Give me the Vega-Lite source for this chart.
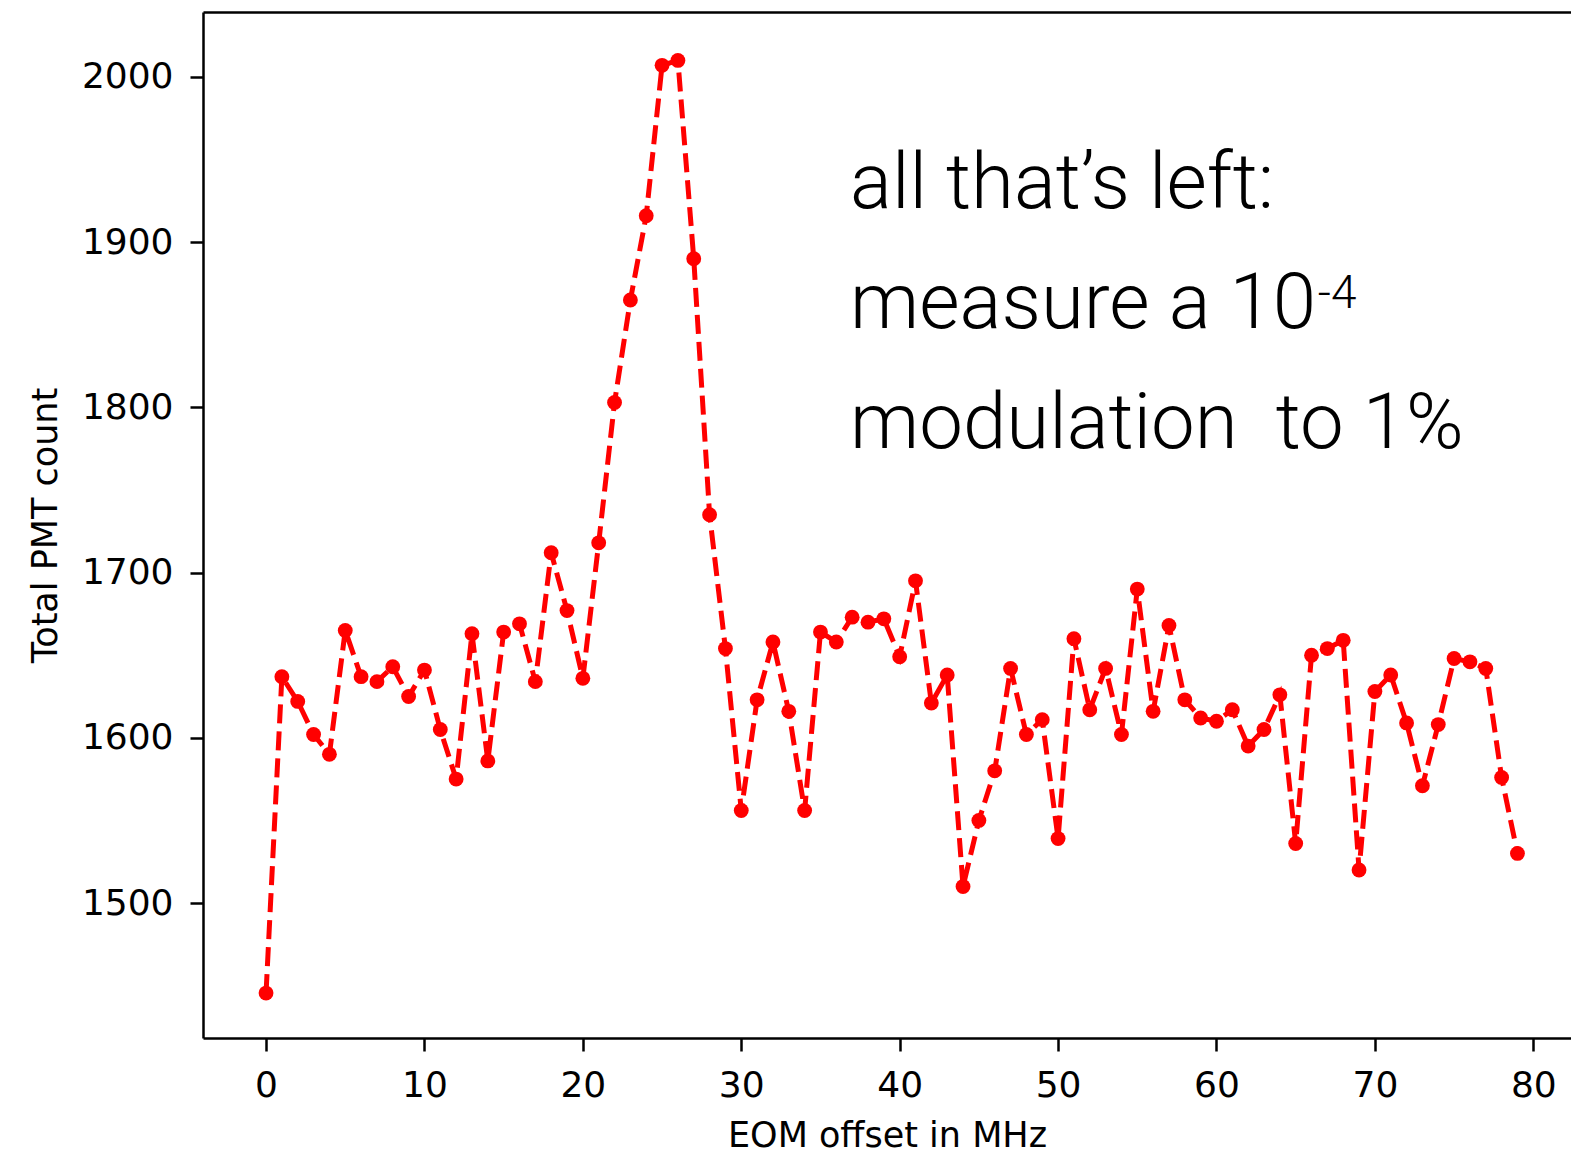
{
  "$schema": "https://vega.github.io/schema/vega-lite/v6.json",
  "width": 1368,
  "height": 1026,
  "autosize": {"type": "none"},
  "padding": {"left": 203, "top": 12, "right": 0, "bottom": 119},
  "background": "white",
  "config": {
    "view": {"stroke": null},
    "axis": {
      "grid": false,
      "domainColor": "black",
      "domainWidth": 2.5,
      "tickColor": "black",
      "tickWidth": 2.5,
      "tickSize": 13,
      "labelFont": "DejaVu Sans",
      "labelFontSize": 36,
      "labelColor": "black",
      "labelPadding": 17,
      "titleFont": "DejaVu Sans",
      "titleFontSize": 35,
      "titleFontWeight": "normal",
      "titleColor": "black"
    }
  },
  "datasets": {
    "pts": [
      {"x": 0, "y": 1445.5}, {"x": 1, "y": 1637}, {"x": 2, "y": 1622}, {"x": 3, "y": 1602}, {"x": 4, "y": 1590},
      {"x": 5, "y": 1665}, {"x": 6, "y": 1637}, {"x": 7, "y": 1634}, {"x": 8, "y": 1643}, {"x": 9, "y": 1625},
      {"x": 10, "y": 1641}, {"x": 11, "y": 1605}, {"x": 12, "y": 1575}, {"x": 13, "y": 1663}, {"x": 14, "y": 1586},
      {"x": 15, "y": 1664}, {"x": 16, "y": 1669}, {"x": 17, "y": 1634}, {"x": 18, "y": 1712}, {"x": 19, "y": 1677},
      {"x": 20, "y": 1636}, {"x": 21, "y": 1718}, {"x": 22, "y": 1803}, {"x": 23, "y": 1865}, {"x": 24, "y": 1916},
      {"x": 25, "y": 2007}, {"x": 26, "y": 2010}, {"x": 27, "y": 1890}, {"x": 28, "y": 1735}, {"x": 29, "y": 1654},
      {"x": 30, "y": 1556}, {"x": 31, "y": 1623}, {"x": 32, "y": 1658}, {"x": 33, "y": 1616}, {"x": 34, "y": 1556},
      {"x": 35, "y": 1664}, {"x": 36, "y": 1658}, {"x": 37, "y": 1673}, {"x": 38, "y": 1670}, {"x": 39, "y": 1672},
      {"x": 40, "y": 1649}, {"x": 41, "y": 1695}, {"x": 42, "y": 1621}, {"x": 43, "y": 1638}, {"x": 44, "y": 1510},
      {"x": 45, "y": 1550}, {"x": 46, "y": 1580}, {"x": 47, "y": 1642}, {"x": 48, "y": 1602}, {"x": 49, "y": 1611},
      {"x": 50, "y": 1539}, {"x": 51, "y": 1660}, {"x": 52, "y": 1617}, {"x": 53, "y": 1642}, {"x": 54, "y": 1602},
      {"x": 55, "y": 1690}, {"x": 56, "y": 1616}, {"x": 57, "y": 1668}, {"x": 58, "y": 1623}, {"x": 59, "y": 1612},
      {"x": 60, "y": 1610}, {"x": 61, "y": 1617}, {"x": 62, "y": 1595}, {"x": 63, "y": 1605}, {"x": 64, "y": 1626},
      {"x": 65, "y": 1536}, {"x": 66, "y": 1650}, {"x": 67, "y": 1654}, {"x": 68, "y": 1659}, {"x": 69, "y": 1520},
      {"x": 70, "y": 1628}, {"x": 71, "y": 1638}, {"x": 72, "y": 1609}, {"x": 73, "y": 1571}, {"x": 74, "y": 1608},
      {"x": 75, "y": 1648}, {"x": 76, "y": 1646}, {"x": 77, "y": 1642}, {"x": 78, "y": 1576}, {"x": 79, "y": 1530}
    ],
    "notes": [
      {"x": 36.87, "y": 1920.7, "text": "all that’s left:"},
      {"x": 36.87, "y": 1848.1, "text": "measure a 10"},
      {"x": 36.87, "y": 1775.4, "text": "modulation\u00a0 to 1%"}
    ],
    "sup": [
      {"x": 66.4, "y": 1860, "text": "-4"}
    ]
  },
  "layer": [
    {
      "data": {"name": "pts"},
      "mark": {"type": "line", "color": "#ff0000", "strokeWidth": 5, "strokeDash": [19, 8]},
      "encoding": {
        "x": {
          "field": "x", "type": "quantitative",
          "scale": {"domain": [-3.98, 82.38], "nice": false, "zero": false},
          "axis": {"values": [0, 10, 20, 30, 40, 50, 60, 70, 80], "title": "EOM offset in MHz", "titlePadding": 15}
        },
        "y": {
          "field": "y", "type": "quantitative",
          "scale": {"domain": [1418.3, 2039.3], "nice": false, "zero": false},
          "axis": {"values": [1500, 1600, 1700, 1800, 1900, 2000], "format": "d", "title": "Total PMT count", "titlePadding": 18}
        }
      }
    },
    {
      "data": {"name": "pts"},
      "mark": {"type": "point", "filled": true, "color": "#ff0000", "size": 220, "opacity": 1},
      "encoding": {
        "x": {"field": "x", "type": "quantitative", "axis": {"orient": "top", "labels": false, "ticks": false, "title": null, "domain": true}},
        "y": {"field": "y", "type": "quantitative"}
      }
    },
    {
      "data": {"name": "notes"},
      "mark": {"type": "text", "align": "left", "baseline": "alphabetic", "font": "Roboto", "fontWeight": 300, "fontSize": 78, "color": "black"},
      "encoding": {
        "x": {"field": "x", "type": "quantitative", "axis": null},
        "y": {"field": "y", "type": "quantitative"},
        "text": {"field": "text"}
      }
    },
    {
      "data": {"name": "sup"},
      "mark": {"type": "text", "align": "left", "baseline": "alphabetic", "font": "Roboto", "fontWeight": 300, "fontSize": 46, "color": "black"},
      "encoding": {
        "x": {"field": "x", "type": "quantitative", "axis": null},
        "y": {"field": "y", "type": "quantitative"},
        "text": {"field": "text"}
      }
    }
  ],
  "resolve": {"axis": {"x": "independent"}}
}
